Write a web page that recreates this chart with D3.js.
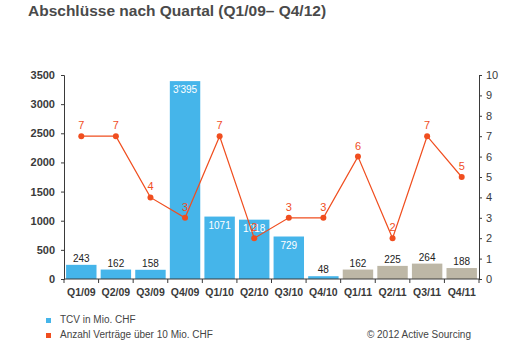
<!DOCTYPE html>
<html><head><meta charset="utf-8">
<script src="https://cdn.jsdelivr.net/npm/d3@7"></script>
<style>body{margin:0;background:#fff;} text{font-family:"Liberation Sans",Arial,sans-serif;}</style>
</head><body>
<svg id="c" width="530" height="356"></svg>
<script>
const categories = ["Q1/09","Q2/09","Q3/09","Q4/09","Q1/10","Q2/10","Q3/10","Q4/10","Q1/11","Q2/11","Q3/11","Q4/11"];
const tcvValues = [243,162,158,3395,1071,1018,729,48,162,225,264,188];
const tcvLabels = ["243","162","158","3'395","1071","1018","729","48","162","225","264","188"];
const contractCounts = [7,7,4,3,7,2,3,3,6,2,7,5];
const leftTicks = [0,500,1000,1500,2000,2500,3000,3500];
const rightTicks = [0,1,2,3,4,5,6,7,8,9,10];

const svg = d3.select("#c");
const L = 64, R = 479, T = 75, B = 279;
const x = d3.scaleBand().domain(categories).range([L, R]).paddingInner(0.12).paddingOuter(0.06);
const yL = d3.scaleLinear().domain([0,3500]).range([B,T]);
const yR = d3.scaleLinear().domain([0,10]).range([B,T]);
const blue = "#45b5ea", grey = "#bdb7a6", orange = "#f04e1f", ink = "#3a3a3a";

svg.append("text").attr("x",28).attr("y",16).attr("font-size",15.5).attr("font-weight","bold")
  .attr("fill","#4a4a4a").text("Abschlüsse nach Quartal (Q1/09– Q4/12)");

// bars
svg.selectAll("rect.bar").data(tcvValues).join("rect")
  .attr("x",(d,i)=>x(categories[i])).attr("width",x.bandwidth())
  .attr("y",d=>yL(d)).attr("height",d=>B-yL(d))
  .attr("fill",(d,i)=>i<8?blue:grey);

svg.selectAll("text.bl").data(tcvValues).join("text")
  .attr("x",(d,i)=>x(categories[i])+x.bandwidth()/2)
  .attr("y",d=> d>=700 ? yL(d)+12 : yL(d)-3)
  .attr("text-anchor","middle").attr("font-size",10)
  .attr("fill",d=>d>=700?"#fff":"#222")
  .text((d,i)=>tcvLabels[i]);

// axes
const axL = svg.append("g").attr("transform",`translate(${L},0)`)
  .call(d3.axisLeft(yL).tickValues(leftTicks).tickSize(3).tickPadding(6).tickFormat(d3.format("d")));
const axR = svg.append("g").attr("transform",`translate(${R},0)`)
  .call(d3.axisRight(yR).tickValues(rightTicks).tickSize(3).tickPadding(4));
const axX = svg.append("g").attr("transform",`translate(0,${B})`)
  .call(d3.axisBottom(x).tickSize(0).tickPadding(10));
[axL,axR,axX].forEach(g=>{
  g.select(".domain").attr("stroke",ink);
  g.selectAll(".tick line").attr("stroke",ink);
  g.selectAll("text").attr("font-family","'Liberation Sans',Arial,sans-serif").attr("fill",ink);
});
axL.selectAll("text").attr("font-size",11).attr("font-weight","bold");
axR.selectAll("text").attr("font-size",11);
axX.selectAll("text").attr("font-size",10.5).attr("font-weight","bold");
axX.select(".domain").attr("d",`M${L},0H${R}`);
// category boundary ticks
const bounds = d3.range(categories.length+1).map(i=> i===0?L:(i===categories.length?R:x(categories[i])-x.step()*x.paddingInner()/2));
axX.selectAll("line.bt").data(bounds).join("line").attr("class","bt")
  .attr("x1",d=>d).attr("x2",d=>d).attr("y1",0).attr("y2",4).attr("stroke",ink);

// line
const cx = i => x(categories[i])+x.bandwidth()/2;
svg.append("path").datum(contractCounts)
  .attr("d",d3.line().x((d,i)=>cx(i)).y(d=>yR(d)))
  .attr("fill","none").attr("stroke",orange).attr("stroke-width",1.2);
svg.selectAll("circle.pt").data(contractCounts).join("circle")
  .attr("cx",(d,i)=>cx(i)).attr("cy",d=>yR(d)).attr("r",3).attr("fill",orange);
svg.selectAll("text.pl").data(contractCounts).join("text")
  .attr("x",(d,i)=>cx(i)).attr("y",d=>yR(d)-7)
  .attr("text-anchor","middle").attr("font-size",11).attr("fill",orange).text(d=>d);

// legend
const legend = [{c:blue,t:"TCV in Mio. CHF",y:323},{c:orange,t:"Anzahl Verträge über 10 Mio. CHF",y:338}];
legend.forEach(l=>{
  svg.append("rect").attr("x",46).attr("y",l.y-5).attr("width",5).attr("height",5).attr("fill",l.c);
  svg.append("text").attr("x",60).attr("y",l.y).attr("font-size",10).attr("fill","#444").text(l.t);
});
svg.append("text").attr("x",471).attr("y",338).attr("text-anchor","end").attr("font-size",10).attr("fill","#444").text("© 2012 Active Sourcing");
</script>
</body></html>
